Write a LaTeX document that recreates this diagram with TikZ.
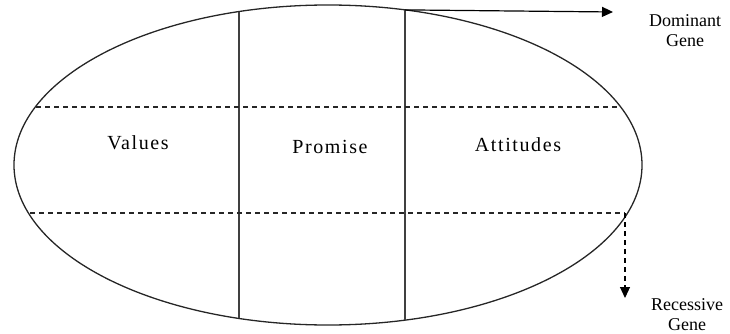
\documentclass[tikz,border=0pt]{standalone}
\usepackage{fontspec}
\setmainfont{Liberation Serif}
\usetikzlibrary{arrows.meta}
\tikzset{
  rim/.style={draw=black!85, line width=1.3pt},
  part/.style={draw=black!75, line width=1.4pt},
  band/.style={draw=black!85, line width=1.3pt, dash pattern=on 5pt off 4pt},
  gene/.style={draw=black, line width=1.2pt, -{Triangle[length=11pt,width=10pt]}},
  cell/.style={font=\fontsize{20}{24}\selectfont\addfontfeature{LetterSpace=8}, inner sep=0pt},
  tag/.style={font=\fontsize{18}{20}\selectfont, align=center, inner sep=0pt},
}

\begin{document}
\begin{tikzpicture}[x=1pt,y=-1pt]
\useasboundingbox (0,0) rectangle (730,334);

% ----- the egg -----
\draw[rim] (328,165) ellipse [x radius=314, y radius=160];

% ----- columns -----
\coordinate (lt) at (239,11.6);
\coordinate (lb) at (239,318.4);
\coordinate (rt) at (405,9.9);
\coordinate (rb) at (405,320.1);
\draw[part] (lt) -- (lb);
\draw[part] (rt) -- (rb);

% ----- rows -----
\coordinate (ul) at (36,107);
\coordinate (ur) at (620.6,107);
\coordinate (dl) at (30,213);
\coordinate (dr) at (625,213);
\draw[band] (ul) -- (ur);
\draw[band] (dl) -- (dr);

% ----- cell labels -----
\node[cell] (values) at (138,143) {Values};
\node[cell] (promise) at (330,147) {Promise};
\node[cell] (attitudes) at (518,145) {Attitudes};

% ----- genes -----
\node[tag] (dominant) at (685,31) {Dominant\\Gene};
\node[tag] (recessive) at (687,315) {Recessive\\Gene};
\coordinate (dtip) at (613,12);
\coordinate (rtip) at (625,298);
\draw[gene] (rt) -- (dtip);
\draw[gene, dash pattern=on 5pt off 4pt] (dr) -- (rtip);

\end{tikzpicture}
\end{document}
